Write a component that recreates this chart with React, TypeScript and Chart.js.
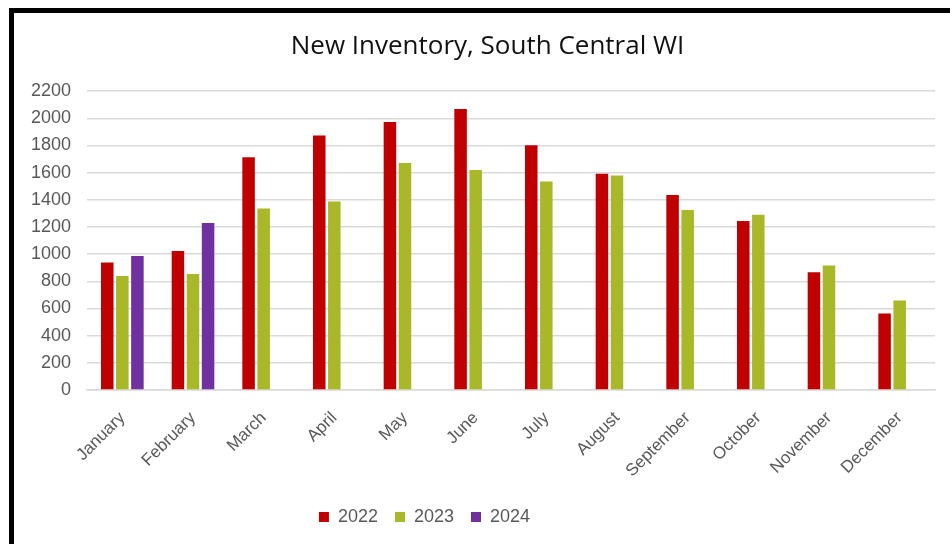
import React, { useEffect, useRef } from "react";
import { Chart, registerables } from "chart.js";

Chart.register(...registerables);

const categories = [
  "January", "February", "March", "April", "May", "June",
  "July", "August", "September", "October", "November", "December",
];
const seriesNames = ["2022", "2023", "2024"];
const values2022 = [938, 1024, 1713, 1874, 1973, 2069, 1802, 1593, 1435, 1244, 867, 563];
const values2023 = [839, 854, 1336, 1388, 1672, 1620, 1536, 1580, 1326, 1291, 916, 659];
const values2024 = [987, 1230, null, null, null, null, null, null, null, null, null, null];
const yTickMax = 2200;
const yTickStep = 200;

const COLORS = ["#C00000", "#A8B828", "#7030A0"];
const TEXT_GREY = "#595959";
const GRID_GREY = "#D9D9D9";

const boxShift = {
  id: "boxShift",
  afterLayout(chart: any) {
    const lg = chart.legend;
    if (lg) {
      lg.left -= 50;
      lg.right -= 50;
    }
    const tb = chart.titleBlock;
    if (tb) {
      tb.left += 13;
      tb.right += 13;
    }
  },
};

export default function App() {
  const ref = useRef<HTMLCanvasElement | null>(null);

  useEffect(() => {
    if (!ref.current) return;
    const chart = new Chart(ref.current, {
      type: "bar",
      data: {
        labels: categories,
        datasets: [values2022, values2023, values2024].map((vals, i) => ({
          label: seriesNames[i],
          data: vals,
          backgroundColor: COLORS[i],
          borderWidth: 0,
          categoryPercentage: 0.64,
          barPercentage: 0.83,
        })),
      },
      options: {
        responsive: false,
        animation: false,
        layout: { padding: { left: 0, right: 26, top: 0, bottom: 8 } },
        plugins: {
          title: {
            display: true,
            text: "New Inventory, South Central WI",
            color: "#111111",
            font: { family: "'Open Sans', sans-serif", size: 26, weight: "normal" },
            padding: { top: 18, bottom: 29 },
          },
          legend: {
            position: "bottom",
            labels: {
              color: TEXT_GREY,
              font: { family: "'Liberation Sans', Arial, sans-serif", size: 18 },
              boxWidth: 10,
              boxHeight: 10,
              padding: 17,
            },
          },
          tooltip: { enabled: false },
        },
        scales: {
          x: {
            grid: { display: false },
            border: { display: true, color: GRID_GREY, width: 1.5 },
            ticks: {
              color: TEXT_GREY,
              font: { family: "'Liberation Sans', Arial, sans-serif", size: 17 },
              minRotation: 45,
              maxRotation: 45,
              padding: 10,
              autoSkip: false,
            },
            afterFit: (scale: any) => {
              scale.height = 101;
            },
          },
          y: {
            min: 0,
            max: yTickMax,
            grid: { color: GRID_GREY, lineWidth: 1.5, drawTicks: false },
            border: { display: false },
            ticks: {
              stepSize: yTickStep,
              color: TEXT_GREY,
              font: { family: "'Liberation Sans', Arial, sans-serif", size: 18 },
              padding: 16,
              callback: (v: any) => String(v),
            },
            afterFit: (scale: any) => {
              scale.width = 73;
            },
          },
        },
      },
      plugins: [boxShift],
    });
    return () => chart.destroy();
  }, []);

  return (
    <div
      style={{
        position: "fixed",
        left: 0,
        top: 0,
        width: 950,
        height: 544,
        overflow: "hidden",
        background: "#ffffff",
      }}
    >
      <div
        style={{
          position: "absolute",
          left: 9,
          top: 8,
          borderLeft: "5px solid #000",
          borderTop: "5px solid #000",
          width: 947,
          height: 531,
          background: "#ffffff",
        }}
      >
        <canvas ref={ref} width={947} height={531} style={{ display: "block" }} />
      </div>
    </div>
  );
}
